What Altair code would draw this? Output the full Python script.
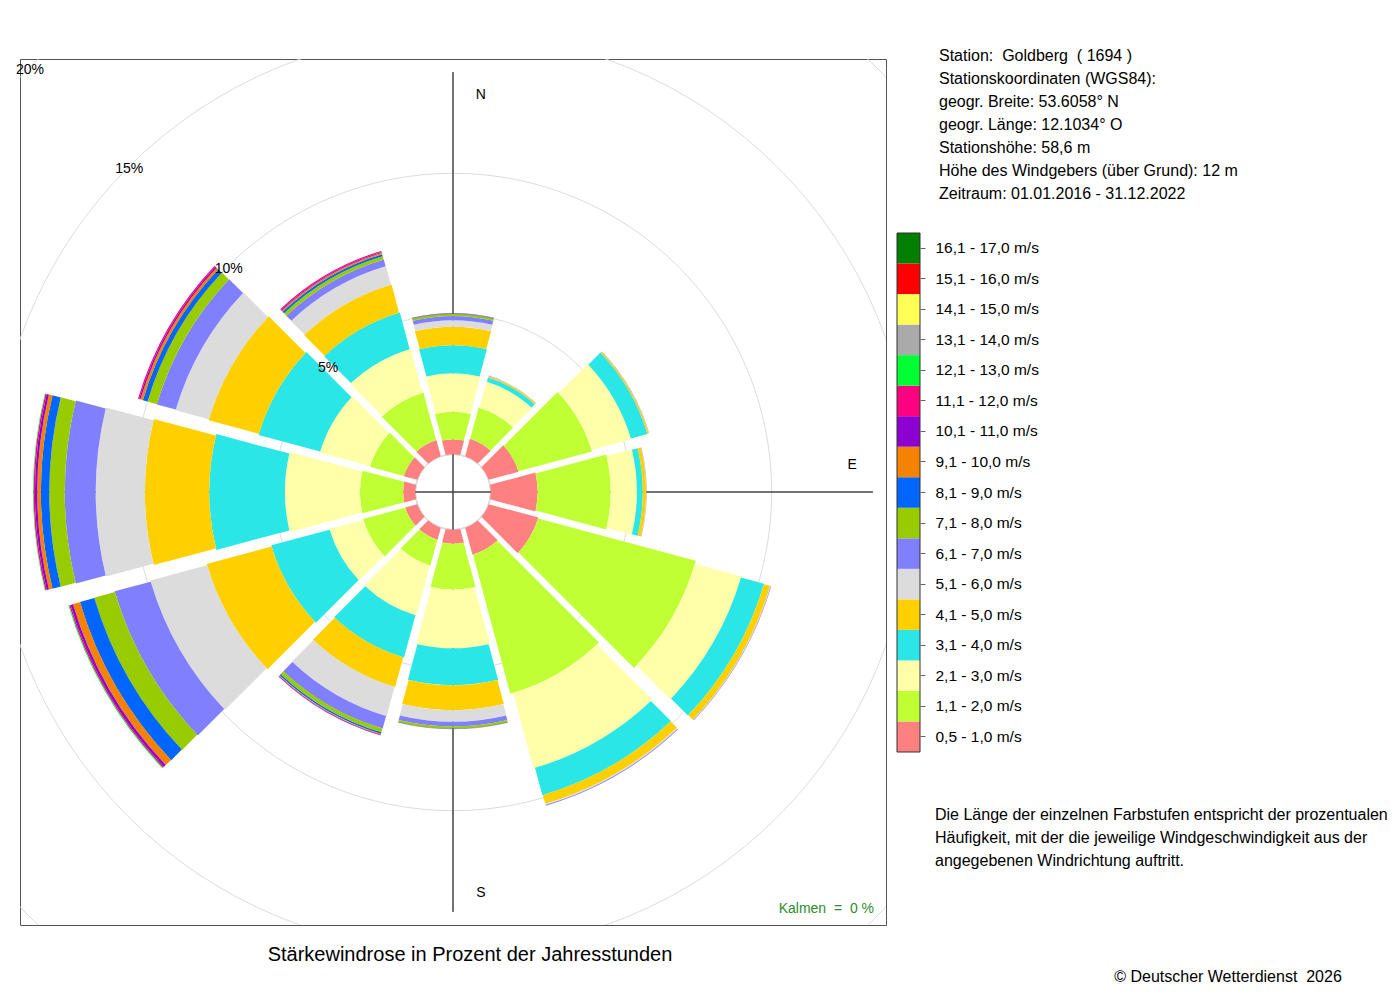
import math
import altair as alt
import pandas as pd

# ---------------- data ----------------
directions = [0, 30, 60, 90, 120, 150, 180, 210, 240, 270, 300, 330]

speed_classes = ["0,5 - 1,0 m/s", "1,1 - 2,0 m/s", "2,1 - 3,0 m/s", "3,1 - 4,0 m/s",
                 "4,1 - 5,0 m/s", "5,1 - 6,0 m/s", "6,1 - 7,0 m/s", "7,1 - 8,0 m/s",
                 "8,1 - 9,0 m/s", "9,1 - 10,0 m/s", "10,1 - 11,0 m/s", "11,1 - 12,0 m/s",
                 "12,1 - 13,0 m/s", "13,1 - 14,0 m/s", "14,1 - 15,0 m/s", "15,1 - 16,0 m/s",
                 "16,1 - 17,0 m/s"]

class_colors = ["#FF8080", "#BFFF33", "#FFFFAA", "#2AE6E6", "#FFD000", "#DCDCDC",
                "#8080FF", "#99CC00", "#0066FF", "#F58200", "#8C00D0", "#FF0080",
                "#00FF33", "#AAAAAA", "#FFFF55", "#FF0000", "#007F00"]

# percent of the year's hours per speed class (lowest class first), per direction
freq_000 = [0.53, 0.98, 1.37, 1.00, 0.66, 0.23, 0.15, 0.07, 0.02, 0.01, 0.01]
freq_030 = [0.65, 1.15, 0.96, 0.16, 0.05, 0.01, 0.01]
freq_060 = [1.10, 2.71, 1.46, 0.61, 0.05, 0.01, 0.01]
freq_090 = [1.67, 2.60, 0.93, 0.21, 0.12, 0.01, 0.01]
freq_120 = [1.83, 5.81, 1.71, 0.85, 0.23, 0.02, 0.02]
freq_150 = [1.00, 5.12, 2.78, 1.01, 0.32, 0.04, 0.03]
freq_180 = [0.50, 1.63, 2.09, 1.31, 0.89, 0.41, 0.17, 0.07, 0.02, 0.01]
freq_210 = [0.45, 0.95, 1.84, 1.56, 1.10, 1.08, 0.46, 0.14, 0.06, 0.03, 0.02, 0.01]
freq_240 = [0.45, 1.55, 1.25, 2.15, 2.39, 2.09, 1.33, 0.76, 0.53, 0.26, 0.09, 0.05, 0.03]
freq_270 = [0.43, 1.54, 2.67, 2.69, 2.29, 1.75, 1.10, 0.55, 0.30, 0.13, 0.08, 0.05, 0.02]
freq_300 = [0.50, 1.25, 1.85, 2.27, 1.85, 1.23, 0.70, 0.35, 0.17, 0.09, 0.05, 0.04]
freq_330 = [0.60, 1.75, 1.62, 1.35, 1.04, 0.68, 0.25, 0.12, 0.08, 0.05, 0.03, 0.04]

freqs = [freq_000, freq_030, freq_060, freq_090, freq_120, freq_150,
         freq_180, freq_210, freq_240, freq_270, freq_300, freq_330]

grid_levels = [5, 10, 15, 20]
grid_labels = ["5%", "10%", "15%", "20%"]
grid_label_angle = 315

compass_labels = ["N", "E", "S", "W"]
compass_angles = [4, 85.8, 176, 274]
compass_radius = 12.9

cross_angles = [0, 90, 180, 270]
cross_length = 13.6

NB = "\u00a0"
info_lines = ["Station: " + NB + "Goldberg " + NB + "( 1694 )",
              "Stationskoordinaten (WGS84):",
              "geogr. Breite: 53.6058° N",
              "geogr. Länge: 12.1034° O",
              "Stationshöhe: 58,6 m",
              "Höhe des Windgebers (über Grund): 12 m",
              "Zeitraum: 01.01.2016 - 31.12.2022"]
note_lines = ["Die Länge der einzelnen Farbstufen entspricht der prozentualen",
              "Häufigkeit, mit der die jeweilige Windgeschwindigkeit aus der",
              "angegebenen Windrichtung auftritt."]
title_text = "Stärkewindrose in Prozent der Jahresstunden"
copyright_text = "© Deutscher Wetterdienst " + NB + "2026"
calm_text = "Kalmen " + NB + "= " + NB + "0 %"

FONT = "Liberation Sans"

# ---------------- tables ----------------
rows = []
for d, vals in zip(directions, freqs):
    cum = 0.0
    for k, v in enumerate(vals):
        if v <= 0:
            continue
        rows.append({"dir": d, "t0": d - 15, "t1": d + 15, "r0": cum, "r1": cum + v,
                     "cls": speed_classes[k], "k": k})
        cum += v
sector_df = pd.DataFrame(rows)

grid_df = pd.DataFrame({"t0": 0, "t1": 360, "r1": [0] + grid_levels})
cross_df = pd.DataFrame({"t0": cross_angles, "t1": cross_angles, "r1": cross_length})
compass_df = pd.DataFrame({"t": compass_angles, "r": compass_radius, "lab": compass_labels})
pct_df = pd.DataFrame({"t": grid_label_angle, "r": grid_levels, "lab": grid_labels})
legend_df = pd.DataFrame({"cls": speed_classes})
one = pd.DataFrame({"k": [0]})

# ---------------- scales ----------------
theta_scale = alt.Scale(type="linear", domain=[0, 360], range=[0, 2 * math.pi], nice=False, zero=False)
radius_scale = alt.Scale(type="linear", domain=[0, 20], range=[37.7, 599.7], nice=False, zero=False)
color_scale = alt.Scale(domain=speed_classes, range=class_colors)

th = alt.Theta("t0:Q", scale=theta_scale, stack=None)
th2 = alt.Theta2("t1:Q")
rad = alt.Radius("r1:Q", scale=radius_scale, stack=None)

grid = alt.Chart(grid_df).mark_arc(filled=False, stroke="#dcdcdc", strokeWidth=1, clip=True).encode(
    theta=th, theta2=th2, radius=rad)

cross = alt.Chart(cross_df).mark_arc(filled=False, stroke="#444444", strokeWidth=1).encode(
    theta=th, theta2=th2, radius=rad, radius2=alt.value(0))

compass = alt.Chart(compass_df).mark_text(font=FONT, fontSize=14, color="#000000",
                                          align="center", baseline="middle", dy=2).encode(
    theta=alt.Theta("t:Q", scale=theta_scale, stack=None),
    radius=alt.Radius("r:Q", scale=radius_scale, stack=None),
    text="lab:N")

pad_expr = ("2*asin(min(0.45, (3.5 + 0.042*scale('radius', datum.r0)) / 2 / "
            "sqrt(pow(scale('radius', datum.r0), 2) + pow(scale('radius', datum.r1), 2))))")

sectors = alt.Chart(sector_df).mark_arc(padAngle={"expr": pad_expr}).encode(
    theta=th, theta2=th2, radius=rad, radius2=alt.Radius2("r0:Q"),
    color=alt.Color("cls:N", scale=color_scale, legend=None))

pct = alt.Chart(pct_df).mark_text(font=FONT, fontSize=14, color="#000000",
                                  align="center", baseline="middle", dx=1, dy=2).encode(
    theta=alt.Theta("t:Q", scale=theta_scale, stack=None),
    radius=alt.Radius("r:Q", scale=radius_scale, stack=None),
    text="lab:N")

legend = alt.Chart(legend_df).mark_rect().encode(
    y=alt.Y("cls:N",
            scale=alt.Scale(domain=speed_classes[::-1], range=[174, 693], paddingInner=0, paddingOuter=0),
            axis=alt.Axis(orient="right", offset=34, domain=False, grid=False, ticks=True,
                          tickSize=5, tickColor="#666666", tickWidth=1, labelPadding=10,
                          labelFont=FONT, labelFontSize=15.5, labelColor="#000000",
                          labelLimit=300, title=None)),
    x=alt.value(877), x2=alt.value(900),
    color=alt.Color("cls:N", scale=color_scale, legend=None))

legend_frame = alt.Chart(one).mark_rect(filled=False, stroke="#333333", strokeWidth=1).encode(
    x=alt.value(877), x2=alt.value(900), y=alt.value(174), y2=alt.value(693))

info = alt.Chart(one).mark_text(align="left", baseline="alphabetic", font=FONT, fontSize=16,
                                lineHeight=23, color="#000000").encode(
    x=alt.value(919), y=alt.value(2), text=alt.value(info_lines))

note = alt.Chart(one).mark_text(align="left", baseline="alphabetic", font=FONT, fontSize=16,
                                lineHeight=23, color="#000000").encode(
    x=alt.value(915), y=alt.value(760.5), text=alt.value(note_lines))

title = alt.Chart(one).mark_text(align="center", baseline="alphabetic", font=FONT, fontSize=20,
                                 color="#000000").encode(
    x=alt.value(450), y=alt.value(902), text=alt.value(title_text))

copyright = alt.Chart(one).mark_text(align="center", baseline="alphabetic", font=FONT, fontSize=16,
                                     color="#000000").encode(
    x=alt.value(1208), y=alt.value(922.5), text=alt.value(copyright_text))

calm = alt.Chart(one).mark_text(align="right", baseline="alphabetic", font=FONT, fontSize=14,
                                color="#2E8B2E").encode(
    x=alt.value(854), y=alt.value(854), text=alt.value(calm_text))

chart = alt.layer(grid, cross, compass, sectors, pct, legend, legend_frame,
                  info, note, title, copyright, calm).properties(
    width=866, height=866,
    autosize=alt.AutoSizeParams(type="none"),
    padding={"left": 12, "top": 51, "right": 504, "bottom": 67},
).configure_view(stroke="#555555", strokeWidth=1)

chart.save("out.html", embed_options={"renderer": "svg", "actions": False})
